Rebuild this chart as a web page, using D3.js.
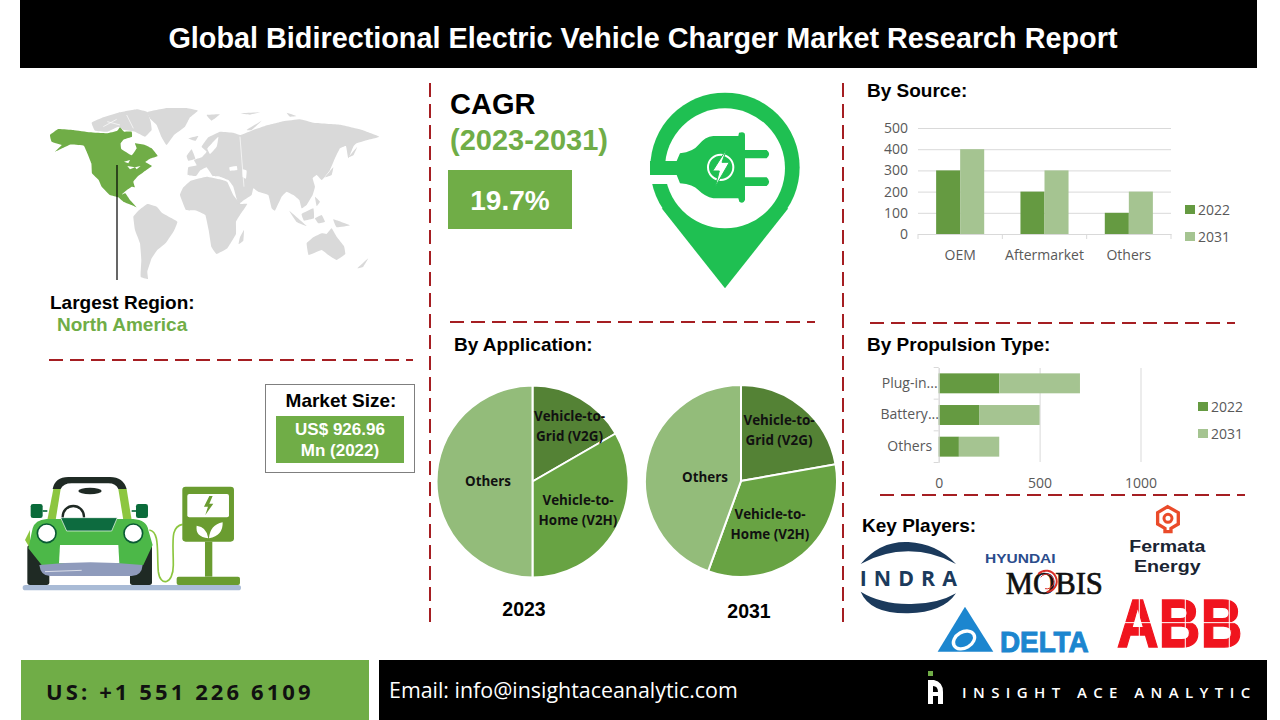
<!DOCTYPE html>
<html>
<head>
<meta charset="utf-8">
<script src="https://cdn.jsdelivr.net/npm/d3@7"></script>
<style>
  html, body { margin: 0; padding: 0; background: #fff; }
  svg { display: block; }
  .head { font-family: "Liberation Sans", Arial, sans-serif; font-weight: 700; fill: #000; }
  .tick text, .leg-txt { font-family: "Open Sans", sans-serif; font-size: 14px; fill: #595959; }
</style>
</head>
<body>
<div id="chart"></div>
<script>
// Chart values
const sourceCats = ["OEM", "Aftermarket", "Others"];
const source2022 = [300, 200, 100];
const source2031 = [400, 300, 200];
const sourceTicks = [0, 100, 200, 300, 400, 500];

const propCats = ["Plug-in...", "Battery...", "Others"];
const prop2022 = [300, 200, 100];
const prop2031 = [400, 300, 200];
const propTicks = [0, 500, 1000];

const legendYears = ["2022", "2031"];

const appCats = ["Vehicle-to-Grid (V2G)", "Vehicle-to-Home (V2H)", "Others"];
const app2023 = [100, 200, 300];
const app2031 = [200, 300, 400];

// Colours
const green = "#70AD47";
const barDark = "#659A41";
const barLight = "#A5C491";
const pieColors = ["#548235", "#68A343", "#93BC7A"];
const dashRed = "#A51E22";
const mapGrey = "#D9D9D9";

const svg = d3.select("#chart").append("svg").attr("width", 1280).attr("height", 720);
const lineGen = d3.line();
const landGen = d3.line().curve(d3.curveCardinalClosed.tension(0.75));

function poly(g, pts, fill) {
  return g.append("path").attr("d", lineGen(pts) + "Z").attr("fill", fill);
}
function land(g, pts, fill) {
  return g.append("path").attr("d", landGen(pts)).attr("fill", fill);
}
function label(txt, x, y, size, opts = {}) {
  return svg.append("text").attr("class", "head").attr("x", x).attr("y", y)
    .attr("font-size", size).attr("text-anchor", opts.anchor || "start")
    .style("fill", opts.fill || "#000").text(txt);
}
function dash(x1, y1, x2, y2) {
  svg.append("line").attr("x1", x1).attr("y1", y1).attr("x2", x2).attr("y2", y2)
    .attr("stroke", dashRed).attr("stroke-width", 2).attr("stroke-dasharray", "14,7");
}
function legend(x, y0, step) {
  legendYears.forEach((yr, i) => {
    const y = y0 + i * step;
    svg.append("rect").attr("x", x).attr("y", y - 5).attr("width", 10).attr("height", 9)
      .attr("fill", i === 0 ? barDark : barLight);
    svg.append("text").attr("class", "leg-txt").attr("x", x + 13).attr("y", y + 5).text(yr);
  });
}

// Header and footer bands
svg.append("rect").attr("x", 20).attr("y", 0).attr("width", 1237).attr("height", 68).attr("fill", "#000");
label("Global Bidirectional Electric Vehicle Charger Market Research Report", 643, 48, 28.8, { anchor: "middle", fill: "#fff" });

svg.append("rect").attr("x", 21).attr("y", 660).attr("width", 348).attr("height", 60).attr("fill", green);
svg.append("rect").attr("x", 379).attr("y", 660).attr("width", 888).attr("height", 60).attr("fill", "#000");
svg.append("text").attr("x", 46).attr("y", 700).attr("font-family", "Open Sans").attr("font-weight", 700)
  .attr("font-size", 22).attr("letter-spacing", 3.1).attr("fill", "#111").text("US: +1 551 226 6109");
svg.append("text").attr("x", 389).attr("y", 698).attr("font-family", "Open Sans")
  .attr("font-size", 21.4).attr("fill", "#fff").text("Email: info@insightaceanalytic.com");
svg.append("text").attr("x", 962).attr("y", 698).attr("font-family", "Open Sans").attr("font-weight", 600)
  .attr("font-size", 15).attr("letter-spacing", 6.4).attr("fill", "#fff").text("INSIGHT ACE ANALYTIC");
const brand = svg.append("g");
brand.append("rect").attr("x", 928).attr("y", 671).attr("width", 5).attr("height", 5).attr("fill", green);
brand.append("path").attr("fill", "#fff").attr("fill-rule", "evenodd")
  .attr("d", "M928,704V680H934Q943,682 943,692V704H938V696H933V704ZM933,686V692H938Q938,686 933,686Z");

// Dashed dividers
dash(430, 83, 430, 628);
dash(843, 83, 843, 628);
dash(450, 322, 815, 322);
dash(870, 323, 1235, 323);
dash(49, 360, 413, 360);
dash(880, 495, 1245, 495);

// World map, hand traced outlines
const mapG = svg.append("g").attr("transform", "translate(20,80) scale(0.3333)");
const greyLand = [
  // Greenland
  [[382,96],[440,84],[500,84],[534,92],[510,112],[495,140],[462,165],[440,195],[424,170],[410,135],[392,118]],
  // Arctic Canada
  [[215,128],[250,112],[295,98],[350,88],[382,96],[392,125],[395,150],[375,170],[345,155],[312,150],[295,140],[262,155],[225,152]],
  // South America
  [[340,410],[355,392],[382,372],[410,380],[428,400],[472,425],[462,452],[438,488],[412,510],[395,535],[382,575],[384,597],[362,590],[364,540],[360,490],[345,450]],
  // Africa
  [[480,345],[490,322],[512,302],[560,290],[600,298],[622,306],[640,345],[662,372],[682,372],[660,405],[648,425],[648,462],[622,505],[590,522],[574,500],[566,450],[556,405],[530,392],[498,390]],
  [[660,472],[672,450],[670,482],[656,492]],
  // Eurasia
  [[503,285],[505,262],[530,256],[522,240],[545,232],[560,215],[545,200],[565,172],[600,155],[640,158],[662,165],[700,150],[735,138],[790,124],[840,118],[880,128],[960,134],[1020,148],[1078,170],[1050,178],[1010,190],[1000,200],[985,235],[978,198],[960,205],[945,235],[930,270],[915,290],[905,300],[890,285],[878,295],[885,320],[878,345],[860,375],[845,385],[838,360],[820,345],[800,335],[785,350],[765,392],[755,385],[745,345],[715,335],[700,325],[695,345],[672,360],[655,372],[640,320],[625,300],[600,290],[578,288],[560,262],[540,272],[528,288]],
  // Australia
  [[860,490],[880,472],[905,460],[920,462],[935,445],[950,470],[972,498],[976,522],[950,540],[925,525],[905,510],[866,525]],
  [[1012,565],[1045,535],[1030,560]],
  [[500,228],[515,208],[526,236],[505,242]],
  [[505,175],[535,168],[526,183]],
  [[808,392],[860,438],[830,426]],
  [[845,402],[880,385],[882,415],[852,422]],
  [[885,415],[905,405],[915,425],[895,430]],
  [[940,418],[990,436],[950,442]],
  [[985,232],[1012,200],[1000,226]],
  [[915,292],[940,262],[935,285]],
  [[885,350],[900,365],[890,378]],
  [[560,105],[600,103],[575,122]],
  [[680,150],[725,122],[695,150]],
  [[660,100],[720,97],[690,104]],
  [[800,98],[830,108],[810,110]]
];
greyLand.forEach(p => land(mapG, p, mapGrey));
// sea and strait gaps over the grey land
[[[628,262],[650,258],[652,270],[630,272]], [[668,268],[680,272],[678,296],[668,290]], [[562,205],[595,170],[590,200],[570,222]]]
  .forEach(p => land(mapG, p, "#fff"));
[[[262,125],[300,135]], [[320,105],[340,145]], [[250,140],[290,118]], [[660,170],[672,320]]]
  .forEach(p => mapG.append("path").attr("d", lineGen(p)).attr("stroke", "#fff").attr("stroke-width", 2).attr("fill", "none"));
land(mapG, [[90,165],[115,147],[160,150],[210,157],[260,160],[292,152],[300,142],[312,155],[335,155],[336,170],[312,178],[302,190],[304,207],[335,226],[350,205],[345,190],[375,195],[395,205],[413,228],[390,236],[376,246],[396,258],[372,275],[352,290],[340,305],[345,322],[335,320],[318,332],[303,345],[316,340],[330,360],[350,382],[335,375],[310,365],[295,352],[270,345],[245,320],[236,300],[216,280],[214,250],[192,198],[150,194],[105,215],[125,195],[95,185]], green);
[[[312,245],[330,240],[325,250]], [[322,258],[345,262],[330,268]], [[345,262],[362,258],[350,268]]]
  .forEach(p => poly(mapG, p, "#fff"));
svg.append("line").attr("x1", 117).attr("y1", 165).attr("x2", 117).attr("y2", 280).attr("stroke", "#000").attr("stroke-width", 1.2);
label("Largest Region:", 50, 309, 19);
label("North America", 57, 331, 19, { fill: green });

// CAGR block
label("CAGR", 450, 114, 29);
label("(2023-2031)", 450, 150, 29, { fill: green });
svg.append("rect").attr("x", 448).attr("y", 170).attr("width", 124).attr("height", 59).attr("fill", green);
label("19.7%", 510, 210, 28, { anchor: "middle", fill: "#fff" });

// Charging pin icon
const pinG = svg.append("g").attr("transform", "translate(630,85) scale(0.3333)");
const pinGreen = "#1FC052";
pinG.append("circle").attr("cx", 285).attr("cy", 247).attr("r", 224).attr("fill", pinGreen);
pinG.append("path").attr("fill", pinGreen).attr("d", "M285,610L95,370H475Z");
pinG.append("circle").attr("cx", 285).attr("cy", 250).attr("r", 180).attr("fill", "#fff");
pinG.append("rect").attr("x", 55).attr("y", 270).attr("width", 60).attr("height", 27).attr("fill", "#fff");
pinG.append("path").attr("fill", pinGreen)
  .attr("d", "M60,228H140L150,205Q190,200 205,180Q225,155 250,153H325L327,143Q345,138 345,150V195H410Q425,207 410,220H345V277H410Q425,290 410,303H345V345Q340,358 328,350L325,340H250Q225,335 205,315Q190,298 150,295L140,270H60Z");
pinG.append("circle").attr("cx", 272).attr("cy", 247).attr("r", 38).attr("fill", "none").attr("stroke", "#fff").attr("stroke-width", 6);
pinG.append("path").attr("fill", "#fff").attr("stroke", pinGreen).attr("stroke-width", 3)
  .attr("d", "M290,192L248,258H268L256,305L298,232H276Z");

// Market size box
svg.append("rect").attr("x", 265.5).attr("y", 384.5).attr("width", 149).attr("height", 88).attr("fill", "#fff").attr("stroke", "#7f7f7f");
label("Market Size:", 341, 407, 19, { anchor: "middle" });
svg.append("rect").attr("x", 276).attr("y", 416).attr("width", 128).attr("height", 47).attr("fill", green);
label("US$ 926.96", 340, 435, 17, { anchor: "middle", fill: "#fff" });
label("Mn (2022)", 340, 456, 17, { anchor: "middle", fill: "#fff" });

// Car and charger illustration
const carG = svg.append("g").attr("transform", "translate(10,465) scale(0.3333)");
carG.append("rect").attr("x", 38).attr("y", 360).attr("width", 655).attr("height", 16).attr("rx", 8).attr("fill", "#A9BBD6");
carG.append("rect").attr("x", 52).attr("y", 240).attr("width", 66).attr("height", 120).attr("rx", 8).attr("fill", "#1F2A24");
carG.append("rect").attr("x", 360).attr("y", 240).attr("width", 66).attr("height", 120).attr("rx", 8).attr("fill", "#1F2A24");
carG.append("path").attr("fill", "#1F2A24").attr("d", "M128,72Q135,36 175,36H300Q340,36 350,72H325Q318,55 295,55H185Q160,55 152,72Z");
poly(carG, [[130,72],[152,72],[137,165],[112,165]], "#8CC63F");
poly(carG, [[325,72],[350,72],[365,165],[340,165]], "#8CC63F");
carG.append("ellipse").attr("cx", 240).attr("cy", 78).attr("rx", 35).attr("ry", 10).attr("fill", "#1F2A24");
carG.append("circle").attr("cx", 190).attr("cy", 155).attr("r", 32).attr("fill", "none").attr("stroke", "#1F2A24").attr("stroke-width", 7);
[[62, 98, 112], [378, 378, 365]].forEach(([x, x1, x2]) => {
  carG.append("rect").attr("x", x).attr("y", 117).attr("width", 36).attr("height", 42).attr("rx", 7).attr("fill", "#0A6B3A");
  carG.append("line").attr("x1", x1).attr("y1", 138).attr("x2", x2).attr("y2", 138).attr("stroke", "#0A6B3A").attr("stroke-width", 5);
});
carG.append("path").attr("fill", "none").attr("stroke", "#8CC63F").attr("stroke-width", 5)
  .attr("d", "M418,195C450,200 440,260 445,320C450,365 490,360 490,300C490,230 480,185 518,178");
carG.append("path").attr("fill", "#8CC63F").attr("d", "M60,195L45,225L60,250Z");
carG.append("path").attr("fill", "#4CB848").attr("d", "M68,190Q75,165 110,162H370Q410,165 415,195L428,240L400,300H95L55,250Z");
poly(carG, [[152,158],[322,158],[305,198],[170,198]], "#0D6B3F").attr("stroke", "#fff").attr("stroke-width", 2);
[110, 370].forEach(cx => carG.append("circle").attr("cx", cx).attr("cy", 205).attr("r", 28).attr("fill", "#fff").attr("stroke", "#0A5B34").attr("stroke-width", 5));
poly(carG, [[150,240],[325,240],[328,295],[147,295]], "#fff");
carG.append("path").attr("fill", "#8F9BBC").attr("d", "M88,300Q240,284 398,300Q395,333 365,333H120Q92,333 88,300Z");
carG.append("line").attr("x1", 105).attr("y1", 320).attr("x2", 215).attr("y2", 316).attr("stroke", "#fff").attr("stroke-width", 2);
carG.append("rect").attr("x", 517).attr("y", 65).attr("width", 155).attr("height", 165).attr("rx", 10).attr("fill", "#6A9C30");
carG.append("rect").attr("x", 532).attr("y", 87).attr("width", 125).attr("height", 70).attr("rx", 6).attr("fill", "#fff");
poly(carG, [[598,93],[582,125],[594,125],[586,150],[610,116],[598,116],[608,93]], "#6A9C30");
carG.append("path").attr("fill", "#fff").attr("d", "M595,220Q555,215 560,182Q590,185 595,220ZM597,220Q600,180 638,172Q640,212 597,220Z");
carG.append("rect").attr("x", 585).attr("y", 230).attr("width", 22).attr("height", 105).attr("fill", "#6A9C30");
carG.append("rect").attr("x", 500).attr("y", 335).attr("width", 190).attr("height", 25).attr("rx", 6).attr("fill", "#6A9C30");

// By Source: grouped bars
label("By Source:", 867, 97, 19);
const srcX = d3.scaleBand().domain(sourceCats).range([918, 1171]).paddingInner(0.43).paddingOuter(0.215);
const srcInner = d3.scaleBand().domain(legendYears).range([0, srcX.bandwidth()]);
const srcY = d3.scaleLinear().domain([0, 500]).range([234, 128]);

const srcYAxis = svg.append("g").attr("transform", "translate(918,0)")
  .call(d3.axisLeft(srcY).tickValues(sourceTicks).tickSize(-253).tickPadding(10));
srcYAxis.select(".domain").remove();
srcYAxis.selectAll("line").attr("stroke", "#D9D9D9");

sourceCats.forEach((cat, i) => {
  [source2022[i], source2031[i]].forEach((v, j) => {
    svg.append("rect")
      .attr("x", srcX(cat) + srcInner(legendYears[j]))
      .attr("y", srcY(v))
      .attr("width", srcInner.bandwidth())
      .attr("height", srcY(0) - srcY(v))
      .attr("fill", j === 0 ? barDark : barLight);
  });
});

const srcXAxis = svg.append("g").attr("transform", "translate(0,234)")
  .call(d3.axisBottom(srcX).tickSize(0).tickPadding(16));
srcXAxis.select(".domain").attr("stroke", "#D9D9D9");
d3.range(sourceCats.length + 1).forEach(i => {
  const x = srcX.range()[0] + i * srcX.step();
  srcXAxis.append("line").attr("x1", x).attr("x2", x).attr("y1", 0).attr("y2", 5).attr("stroke", "#D9D9D9");
});
legend(1185, 210, 27);

// By Propulsion Type: stacked bars
label("By Propulsion Type:", 867, 351, 19);
const propX = d3.scaleLinear().domain([0, 1000]).range([938.7, 1140.5]);
const propY = d3.scaleBand().domain(propCats).range([367.5, 462.5]).paddingInner(0.37).paddingOuter(0.185);
const propRows = propCats.map((c, i) => ({ cat: c, y2022: prop2022[i], y2031: prop2031[i] }));
const propStack = d3.stack().keys(["y2022", "y2031"])(propRows);

const propXAxis = svg.append("g").attr("transform", "translate(0,462)")
  .call(d3.axisBottom(propX).tickValues(propTicks).tickFormat(d3.format("d")).tickSize(-94).tickPadding(16));
propXAxis.select(".domain").remove();
propXAxis.selectAll("line").attr("stroke", "#D9D9D9");

propStack.forEach((layer, j) => {
  svg.append("g").attr("fill", j === 0 ? barDark : barLight)
    .selectAll("rect").data(layer).join("rect")
    .attr("x", d => propX(d[0]))
    .attr("y", d => propY(d.data.cat))
    .attr("width", d => propX(d[1]) - propX(d[0]))
    .attr("height", propY.bandwidth());
});

const propYAxis = svg.append("g").attr("transform", "translate(938.7,0)")
  .call(d3.axisLeft(propY).tickSize(0).tickPadding(0));
propYAxis.select(".domain").attr("stroke", "#D9D9D9");
propYAxis.selectAll("text").attr("x", -29).attr("text-anchor", "middle");
d3.range(propCats.length + 1).forEach(i => {
  const y = propY.range()[0] + i * propY.step();
  propYAxis.append("line").attr("x1", -5).attr("x2", 0).attr("y1", y).attr("y2", y).attr("stroke", "#D9D9D9");
});
legend(1198, 407, 27);

// By Application: two pies
label("By Application:", 454, 351, 19);
const pieGen = d3.pie().sort(null);
function drawPie(values, cx, cy, r, labels, year, yearX, yearY) {
  const arc = d3.arc().innerRadius(0).outerRadius(r);
  const g = svg.append("g").attr("transform", `translate(${cx},${cy})`);
  g.selectAll("path").data(pieGen(values)).join("path")
    .attr("d", arc)
    .attr("fill", (d, i) => pieColors[i])
    .attr("stroke", "#fff").attr("stroke-width", 2);
  labels.forEach(([lines, x, y]) => {
    const t = svg.append("text").attr("x", x).attr("y", y).attr("text-anchor", "middle")
      .attr("font-family", "Open Sans").attr("font-weight", 700).attr("font-size", 13.4).attr("fill", "#111");
    lines.forEach((ln, i) => t.append("tspan").attr("x", x).attr("dy", i === 0 ? 0 : 20).text(ln));
  });
  label(year, yearX, yearY, 19.5, { anchor: "middle" });
}
const splitCat = c => c === "Others" ? [c] : [c.split("-").slice(0, 2).join("-") + "-", c.split("-")[2]];
drawPie(app2023, 532.5, 481.5, 96, [
  [splitCat(appCats[0]), 569.5, 421],
  [splitCat(appCats[1]), 578, 505],
  [splitCat(appCats[2]), 488, 486]
], "2023", 524, 616);
drawPie(app2031, 741, 481, 96, [
  [splitCat(appCats[0]), 779, 425],
  [splitCat(appCats[1]), 770, 519],
  [splitCat(appCats[2]), 705, 482]
], "2031", 749, 618);

// Key players
label("Key Players:", 862, 532, 19);
const logoG = svg.append("g").attr("transform", "translate(850,500) scale(0.3333)");
function logoText(txt, x, y, size, fill, family, weight, extra = {}) {
  const t = logoG.append("text").attr("x", x).attr("y", y).attr("font-size", size).attr("fill", fill)
    .attr("font-family", family).attr("font-weight", weight).text(txt);
  Object.entries(extra).forEach(([k, v]) => t.attr(k, v));
  return t;
}
// INDRA
const navy = "#1B3A5C";
logoG.append("path").attr("fill", navy).attr("d", "M32,192Q90,122 175,126Q260,130 318,192Q250,154 175,154Q100,154 32,192Z");
logoG.append("path").attr("fill", navy).attr("d", "M32,275Q60,342 175,340Q280,337 318,280Q260,314 175,312Q90,311 32,275Z");
logoText("INDRA", 175, 257, 64, navy, "Open Sans", 700, { "text-anchor": "middle", "textLength": 292 });
// Hyundai Mobis
logoText("HYUNDAI", 405, 189, 36, "#2B4C8C", "Liberation Sans", 700, { "textLength": 212, "lengthAdjust": "spacingAndGlyphs" });
logoText("MOBIS", 467, 283, 96, "#111", "Liberation Serif", 400, { "textLength": 292, "lengthAdjust": "spacingAndGlyphs", "stroke": "#111", "stroke-width": 2 });
logoG.append("path").attr("fill", "none").attr("stroke", "#D9302A").attr("stroke-width", 6)
  .attr("d", "M565,222A32,32 0 1 1 590,276");
logoG.append("path").attr("fill", "none").attr("stroke", "#D9302A").attr("stroke-width", 3)
  .attr("d", "M572,232A22,22 0 1 1 585,266");
// Fermata
const fermRed = "#EA4B2A";
logoG.append("path").attr("fill", "none").attr("stroke", fermRed).attr("stroke-width", 10)
  .attr("d", "M953,20L985,38V72L963,85V95H945V85L923,72V38Z");
logoG.append("circle").attr("cx", 954).attr("cy", 55).attr("r", 12).attr("fill", "none").attr("stroke", fermRed).attr("stroke-width", 9);
logoText("Fermata", 952, 155, 52, "#1A2433", "Liberation Sans", 700, { "text-anchor": "middle", "textLength": 228, "lengthAdjust": "spacingAndGlyphs" });
logoText("Energy", 952, 215, 52, "#1A2433", "Liberation Sans", 700, { "text-anchor": "middle", "textLength": 200, "lengthAdjust": "spacingAndGlyphs" });
// Delta
const deltaBlue = "#1C86CF";
poly(logoG, [[345,320],[430,455],[263,455]], deltaBlue);
logoG.append("ellipse").attr("cx", 342).attr("cy", 420).attr("rx", 34).attr("ry", 24).attr("fill", "none")
  .attr("stroke", "#fff").attr("stroke-width", 10).attr("transform", "rotate(-30 342 420)");
logoText("DELTA", 450, 455, 88, deltaBlue, "Liberation Sans", 700, { "textLength": 266, "lengthAdjust": "spacingAndGlyphs", "stroke": deltaBlue, "stroke-width": 3 });
// ABB
logoText("ABB", 800, 440, 208, "#F0141E", "Liberation Sans", 700, { "textLength": 378, "lengthAdjust": "spacingAndGlyphs", "stroke": "#F0141E", "stroke-width": 4 });
[[868, 290, 868, 445], [1006, 290, 1006, 445], [1138, 290, 1138, 445], [795, 368, 1182, 368]].forEach(([a, b, c, d]) => {
  logoG.append("line").attr("x1", a).attr("y1", b).attr("x2", c).attr("y2", d).attr("stroke", "#fff").attr("stroke-width", 3);
});
</script>
</body>
</html>
